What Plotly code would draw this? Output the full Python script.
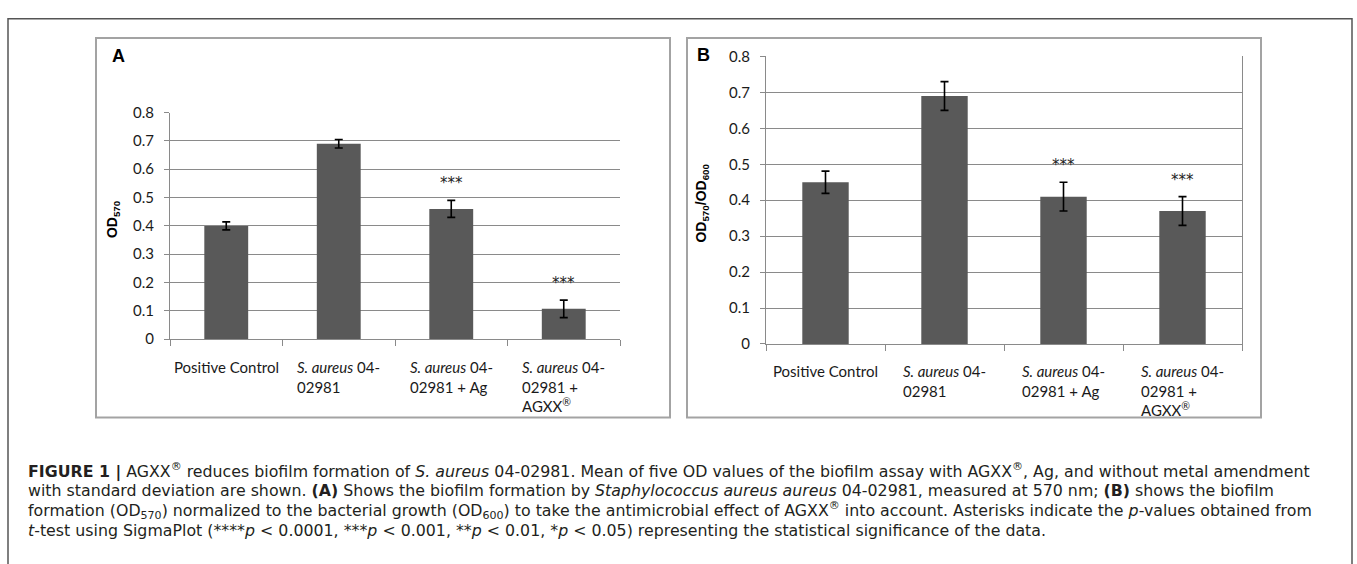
import plotly.graph_objects as go

W, H = 1357, 564

# ---------------- data ----------------
categories = ["Positive Control", "S. aureus 04-02981",
              "S. aureus 04-02981 + Ag", "S. aureus 04-02981 + AGXX"]
tick_labels = ["Positive Control",
               "<i>S. aureus</i> 04-<br>02981",
               "<i>S. aureus</i> 04-<br>02981 + Ag",
               "<i>S. aureus</i> 04-<br>02981 +<br>AGXX<sup>®</sup>"]
od570_mean = [0.40, 0.69, 0.46, 0.107]
od570_sd = [0.014, 0.015, 0.030, 0.031]
ratio_mean = [0.45, 0.69, 0.41, 0.37]
ratio_sd = [0.031, 0.040, 0.040, 0.040]
sig_a = ["", "", "***", "***"]
sig_b = ["", "", "***", "***"]
y_tick_vals = [0, 0.1, 0.2, 0.3, 0.4, 0.5, 0.6, 0.7, 0.8]
y_tick_text = ["0", "0.1", "0.2", "0.3", "0.4", "0.5", "0.6", "0.7", "0.8"]

caption_lines = [
    "<b>FIGURE 1 |</b> AGXX<sup>®</sup> reduces biofilm formation of <i>S. aureus</i> 04-02981. Mean of five OD values of the biofilm assay with AGXX<sup>®</sup>, Ag, and without metal amendment",
    "with standard deviation are shown. <b>(A)</b> Shows the biofilm formation by <i>Staphylococcus aureus aureus</i> 04-02981, measured at 570 nm; <b>(B)</b> shows the biofilm",
    "formation (OD<sub>570</sub>) normalized to the bacterial growth (OD<sub>600</sub>) to take the antimicrobial effect of AGXX<sup>®</sup> into account. Asterisks indicate the <i>p</i>-values obtained from",
    "<i>t</i>-test using SigmaPlot (****<i>p</i> &lt; 0.0001, ***<i>p</i> &lt; 0.001, **<i>p</i> &lt; 0.01, *<i>p</i> &lt; 0.05) representing the statistical significance of the data.",
]

# ---------------- helpers ----------------
def px(x):
    return x / W


def py(y):
    return 1 - y / H


BAR = "#595959"
GRID = "#8a8a8a"
TICKFONT = dict(family="Lato", size=15, color="#1a1a1a")

fig = go.Figure()

fig.add_trace(go.Bar(
    x=categories, y=od570_mean, width=0.39, marker_color=BAR, marker_line_width=0,
    error_y=dict(type="data", array=od570_sd, color="black", thickness=1.6, width=4),
    xaxis="x", yaxis="y", showlegend=False))

fig.add_trace(go.Bar(
    x=categories, y=ratio_mean, width=0.39, marker_color=BAR, marker_line_width=0,
    error_y=dict(type="data", array=ratio_sd, color="black", thickness=1.6, width=4),
    xaxis="x2", yaxis="y2", showlegend=False))

xcommon = dict(type="category", range=[-0.5, 3.5], showline=True, linecolor=GRID,
               linewidth=1, ticks="outside", tickson="boundaries", ticklen=6,
               tickcolor=GRID, showticklabels=False, showgrid=False, zeroline=False,
               fixedrange=True)
ycommon = dict(range=[0, 0.8], tickvals=y_tick_vals, ticktext=y_tick_text,
               showgrid=True, gridcolor=GRID, gridwidth=1, showline=True,
               linecolor=GRID, linewidth=1, ticks="outside", ticklen=5,
               tickcolor=GRID, zeroline=False, tickfont=TICKFONT,
               ticklabelstandoff=7, fixedrange=True)

fig.update_layout(
    width=W, height=H, autosize=False,
    margin=dict(l=0, r=0, t=0, b=0, pad=0),
    paper_bgcolor="white", plot_bgcolor="white",
    bargap=0.6,
    xaxis=dict(domain=[px(170), px(620)], anchor="y", **xcommon),
    yaxis=dict(domain=[py(340), py(106)], anchor="x", **ycommon),
    xaxis2=dict(domain=[px(766), px(1242)], anchor="y2", **xcommon),
    yaxis2=dict(domain=[py(345), py(48)], anchor="x2", mirror=True, **ycommon),
)

shapes = []
# outer frame (open at bottom, extends below the view)
shapes.append(dict(type="rect", xref="paper", yref="paper",
                   x0=px(8), x1=px(1352), y0=py(600), y1=py(9),
                   line=dict(color="#555555", width=1.5), fillcolor="rgba(0,0,0,0)"))
# panel boxes
for x0, x1 in [(96, 670), (687, 1261)]:
    shapes.append(dict(type="rect", xref="paper", yref="paper",
                       x0=px(x0), x1=px(x1), y0=py(421), y1=py(29),
                       line=dict(color="#a3a3a3", width=2), fillcolor="rgba(0,0,0,0)"))
fig.update_layout(shapes=shapes)

ann = []
# panel letters
ann.append(dict(text="<b>A</b>", xref="paper", yref="paper", x=px(118), y=py(47),
                xanchor="center", yanchor="middle", showarrow=False,
                font=dict(family="Liberation Sans", size=18, color="black")))
ann.append(dict(text="<b>B</b>", xref="paper", yref="paper", x=px(703), y=py(46),
                xanchor="center", yanchor="middle", showarrow=False,
                font=dict(family="Liberation Sans", size=18, color="black")))
# axis titles
ann.append(dict(text="<b>OD<sub>570</sub></b>", xref="paper", yref="paper",
                x=px(113), y=py(216), textangle=-90, xanchor="center", yanchor="middle",
                showarrow=False, font=dict(family="Liberation Sans", size=14, color="black")))
ann.append(dict(text="<b>OD<sub>570</sub>/OD<sub>600</sub></b>", xref="paper", yref="paper",
                x=px(702), y=py(200), textangle=-90, xanchor="center", yanchor="middle",
                showarrow=False, font=dict(family="Liberation Sans", size=14, color="black")))

# category labels (left-aligned lines, block centred on the category)
for axx, axy, shift in [("x", "y", -17), ("x2", "y2", -16)]:
    for cat, lab in zip(categories, tick_labels):
        ann.append(dict(text=lab, xref=axx, yref=axy, x=cat, y=0, yshift=shift,
                        xanchor="center", yanchor="top", align="left", showarrow=False,
                        font=TICKFONT))

# significance stars
for axx, axy, means, sds, sig in [("x", "y", od570_mean, od570_sd, sig_a),
                                  ("x2", "y2", ratio_mean, ratio_sd, sig_b)]:
    for cat, m, s, t in zip(categories, means, sds, sig):
        if t:
            ann.append(dict(text=t, xref=axx, yref=axy, x=cat, y=m + s, yshift=17,
                            xanchor="center", yanchor="middle", showarrow=False,
                            font=dict(family="DejaVu Sans", size=15, color="#222222")))

# caption, one annotation per line
for i, line in enumerate(caption_lines):
    ann.append(dict(text=line, xref="paper", yref="paper",
                    x=px(26), y=py(476 + 20.6 * i), xanchor="left", yanchor="middle",
                    align="left", showarrow=False,
                    font=dict(family="DejaVu Sans", size=15.8, color="#231f20")))

fig.update_layout(annotations=ann)

fig.write_html("out.html", config={"displayModeBar": False},
               post_script="document.body.style.margin='0';document.body.style.overflow='hidden';")
